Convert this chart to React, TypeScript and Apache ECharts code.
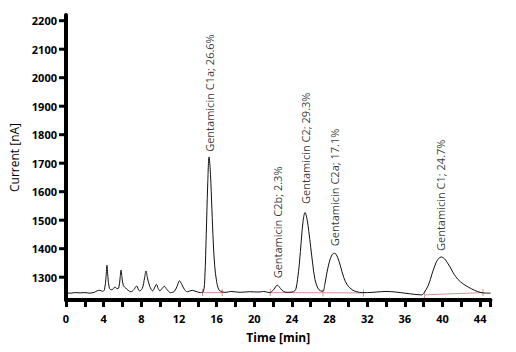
import React, { useEffect, useRef } from 'react';
import * as echarts from 'echarts';

// Chromatogram trace (time [min], current [nA])
const traceTime = [
  0, 0.5, 1.0, 1.5, 2.0, 2.5, 3.0, 3.3, 3.6, 3.9, 4.1, 4.25, 4.35, 4.45, 4.6, 4.8, 5.0, 5.2, 5.4, 5.6,
  5.75, 5.85, 5.95, 6.1, 6.35, 6.6, 6.9, 7.2, 7.5, 7.8, 8.1, 8.35, 8.5, 8.65, 8.9, 9.2, 9.4, 9.6, 9.8, 9.97,
  10.2, 10.45, 10.7, 11.1, 11.5, 11.8, 12.05, 12.3, 12.6, 12.9, 13.4, 13.8, 14.3, 14.6, 14.75, 14.9, 15.05, 15.2, 15.35, 15.5,
  15.65, 15.8, 16.0, 16.25, 16.6, 17.0, 17.5, 18.5, 19.5, 20.5, 21.0, 21.6, 21.8, 22.1, 22.45, 22.8, 23.1, 23.5, 24.0, 24.3,
  24.45, 24.6, 24.8, 25.0, 25.2, 25.4, 25.6, 25.8, 26.0, 26.2, 26.45, 26.75, 27.05, 27.3, 27.5, 27.7, 27.95, 28.25, 28.55, 28.85,
  29.15, 29.5, 29.9, 30.4, 30.9, 31.5, 32.0, 33.0, 34.0, 35.0, 36.0, 37.0, 37.8, 38.0, 38.5, 38.9, 39.3, 39.6, 39.86, 40.2,
  40.5, 40.8, 41.1, 41.4, 41.9, 42.5, 43.1, 43.7, 44.3, 45.1,
];
const traceCurrent = [
  1245, 1244, 1246, 1245, 1246, 1244, 1247, 1252, 1254, 1250, 1258, 1300, 1342, 1302, 1262, 1256, 1258, 1266, 1260, 1262,
  1298, 1325, 1298, 1270, 1262, 1254, 1249, 1256, 1269, 1252, 1260, 1298, 1322, 1298, 1268, 1252, 1262, 1275, 1260, 1252,
  1260, 1268, 1258, 1246, 1250, 1268, 1287, 1275, 1256, 1249, 1254, 1250, 1246, 1250, 1300, 1450, 1620, 1722, 1660, 1540,
  1420, 1340, 1285, 1256, 1248, 1247, 1250, 1247, 1249, 1248, 1250, 1246, 1248, 1258, 1272, 1260, 1250, 1247, 1248, 1252,
  1262, 1292, 1350, 1430, 1500, 1527, 1505, 1460, 1405, 1350, 1292, 1262, 1252, 1251, 1275, 1312, 1350, 1378, 1384, 1370,
  1340, 1300, 1272, 1256, 1249, 1246, 1246, 1248, 1250, 1248, 1244, 1240, 1238, 1243, 1272, 1313, 1350, 1366, 1371, 1365,
  1352, 1336, 1318, 1302, 1284, 1270, 1259, 1250, 1245, 1244,
];

// Peak annotations
const peakNames = [
  'Gentamicin C1a; 26.6%',
  'Gentamicin C2b; 2.3%',
  'Gentamicin C2; 29.3%',
  'Gentamicin C2a; 17.1%',
  'Gentamicin C1; 24.7%',
];
const peakLabelTime = [15.2, 22.5, 25.4, 28.55, 39.8];
const peakLabelCurrent = [1740, 1296, 1557, 1409, 1392];

// Integration baselines (red)
const baseStartTime = [14.5, 21.7, 38.1];
const baseStartCurrent = [1246, 1246, 1238];
const baseEndTime = [16.6, 31.6, 44.3];
const baseEndCurrent = [1246, 1245, 1246];
const baseMarkTime = [14.5, 16.6, 21.7, 27.3, 31.6, 38.1, 44.3];
const baseMarkCurrent = [1246, 1246, 1246, 1245, 1245, 1238, 1246];

// Axes
const xMin = 0;
const xMax = 45.1;
const xTickInterval = 2;
const xLabelStep = 4;
const yMin = 1220;
const yMax = 2220;
const yStep = 20;
const yTickValues = [1300, 1400, 1500, 1600, 1700, 1800, 1900, 2000, 2100, 2200];

const FONT = 'Open Sans';
const RED = '#d69292';

export default function App() {
  const ref = useRef<HTMLDivElement>(null);

  useEffect(() => {
    if (!ref.current) return;
    const chart = echarts.init(ref.current, undefined, { renderer: 'svg' });

    const trace = traceTime.map((t, i) => [t, traceCurrent[i]]);
    const baseSeries = baseStartTime.map((t, i) => ({
      type: 'line',
      data: [
        [t, baseStartCurrent[i]],
        [baseEndTime[i], baseEndCurrent[i]],
      ],
      symbol: 'none',
      lineStyle: { color: RED, width: 1 },
    }));

    chart.setOption({
      animation: false,
      grid: { left: 66, right: 25.5, top: 15, bottom: 52 },
      xAxis: {
        type: 'value',
        min: xMin,
        max: xMax,
        interval: xTickInterval,
        name: 'Time [min]',
        nameLocation: 'middle',
        nameGap: 31,
        nameTextStyle: { fontFamily: FONT, fontSize: 12, fontWeight: 'bold', color: '#000' },
        axisLine: { show: true, lineStyle: { color: '#000', width: 4 } },
        axisTick: { show: true, inside: false, length: 7, lineStyle: { color: '#000', width: 3 } },
        axisLabel: {
          formatter: (v: number) => (Math.abs(v % xLabelStep) < 1e-6 ? String(v) : ''),
          margin: 13,
          fontFamily: FONT,
          fontSize: 11,
          fontWeight: 'bold',
          color: '#000',
        },
        splitLine: { show: false },
      },
      yAxis: {
        type: 'value',
        min: yMin,
        max: yMax,
        interval: yStep,
        name: 'Current [nA]',
        nameLocation: 'middle',
        nameGap: 38,
        nameTextStyle: { fontFamily: FONT, fontSize: 12, color: '#000' },
        axisLine: { show: true, lineStyle: { color: '#000', width: 4 } },
        axisTick: { show: false },
        axisLabel: {
          formatter: (v: number) => (yTickValues.indexOf(Math.round(v)) >= 0 ? String(Math.round(v)) : ''),
          margin: 9,
          fontFamily: FONT,
          fontSize: 11,
          fontWeight: 'bold',
          color: '#000',
        },
        splitLine: { show: false },
      },
      series: [
        ...baseSeries,
        {
          type: 'line',
          data: trace,
          symbol: 'none',
          smooth: 0.35,
          lineStyle: { color: '#111', width: 1 },
        },
        {
          type: 'scatter',
          data: peakLabelTime.map((t, i) => [t, peakLabelCurrent[i], peakNames[i]]),
          symbolSize: 1,
          itemStyle: { color: 'rgba(0,0,0,0)' },
          label: {
            show: true,
            position: 'inside',
            rotate: 90,
            align: 'left',
            verticalAlign: 'middle',
            formatter: (p: any) => p.data[2],
            fontFamily: FONT,
            fontSize: 11,
            color: '#000',
          },
        },
      ],
    });

    // y tick marks and integration markers, placed through the chart's own scales
    const toPx = (t: number, v: number) => chart.convertToPixel({ gridIndex: 0 }, [t, v]) as number[];
    const graphics: any[] = [];
    yTickValues.forEach((v) => {
      const p = toPx(xMin, v);
      graphics.push({ type: 'rect', shape: { x: p[0] - 7, y: p[1] - 1.5, width: 7, height: 3 }, style: { fill: '#000' } });
    });
    baseMarkTime.forEach((t, i) => {
      const p = toPx(t, baseMarkCurrent[i]);
      graphics.push({ type: 'rect', shape: { x: p[0] - 0.5, y: p[1] - 3.5, width: 1, height: 7 }, style: { fill: RED } });
    });
    chart.setOption({ graphic: graphics });

    return () => chart.dispose();
  }, []);

  return (
    <div
      ref={ref}
      style={{ position: 'fixed', left: 0, top: 0, width: 516, height: 352, background: '#fff' }}
    />
  );
}
